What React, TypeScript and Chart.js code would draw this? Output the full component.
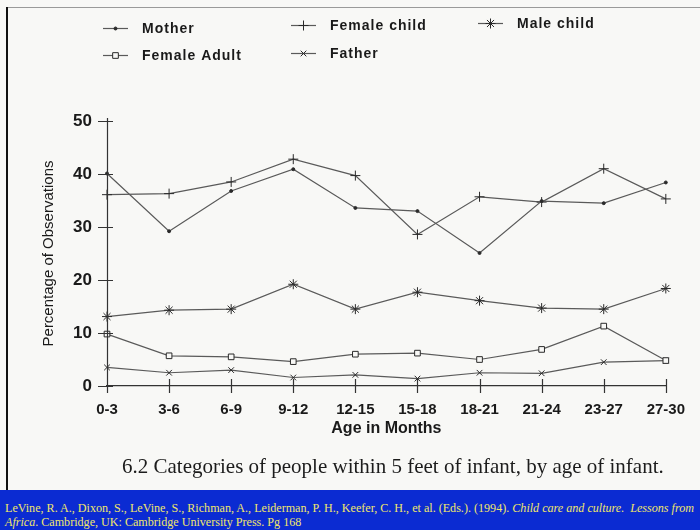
import React, { useEffect, useRef } from "react";
import { Chart, registerables } from "chart.js";
import { drawPoint } from "chart.js/helpers";

Chart.register(...registerables);

const categories = ["0-3", "3-6", "6-9", "9-12", "12-15", "15-18", "18-21", "21-24", "23-27", "27-30"];
const yTicks = [0, 10, 20, 30, 40, 50];

const mother = [40.1, 29.2, 36.8, 40.9, 33.6, 33.0, 25.1, 34.9, 34.5, 38.4];
const femaleChild = [36.1, 36.3, 38.5, 42.8, 39.7, 28.6, 35.7, 34.7, 41.0, 35.3];
const maleChild = [13.1, 14.3, 14.5, 19.2, 14.5, 17.7, 16.1, 14.7, 14.5, 18.4];
const femaleAdult = [9.8, 5.7, 5.5, 4.6, 6.0, 6.2, 5.0, 6.9, 11.3, 4.8];
const father = [3.5, 2.5, 3.0, 1.6, 2.1, 1.4, 2.5, 2.4, 4.5, 4.8];

const caption = "6.2 Categories of people within 5 feet of infant, by age of infant.";

const LINE = "#5a5a5a";
const PT = "#2a2a2a";
const FONT = "'Liberation Sans', Arial, sans-serif";

// legend placement (style only)
const legendPos: Record<string, [number, number]> = {
  Mother: [103, 28],
  "Female child": [291, 25],
  "Male child": [478, 23],
  "Female Adult": [103, 55],
  Father: [291, 53],
};

const axisPlugin = {
  id: "crossTicks",
  afterDraw(chart: any) {
    const ctx = chart.ctx;
    const x = chart.scales.x;
    const y = chart.scales.y;
    const ca = chart.chartArea;
    ctx.save();
    ctx.strokeStyle = "#333";
    ctx.lineWidth = 1.2;
    ctx.beginPath();
    yTicks.forEach((v) => {
      const py = Math.round(y.getPixelForValue(v)) + 0.5;
      ctx.moveTo(ca.left - 9, py);
      ctx.lineTo(ca.left + 6, py);
    });
    categories.forEach((_, i) => {
      const px = Math.round(x.getPixelForValue(i)) + 0.5;
      ctx.moveTo(px, ca.bottom - 7);
      ctx.lineTo(px, ca.bottom + 7);
    });
    ctx.moveTo(ca.left + 0.5, ca.top - 3);
    ctx.lineTo(ca.left + 0.5, ca.bottom + 7);
    ctx.stroke();
    ctx.restore();
  },
};

const legendPlugin = {
  id: "customLegend",
  afterDraw(chart: any) {
    const ctx = chart.ctx;
    ctx.save();
    chart.data.datasets.forEach((ds: any) => {
      const pos = legendPos[ds.label];
      if (!pos) return;
      const [lx, ly] = pos;
      ctx.strokeStyle = ds.borderColor;
      ctx.lineWidth = 1.2;
      ctx.beginPath();
      ctx.moveTo(lx, ly + 0.5);
      ctx.lineTo(lx + 25, ly + 0.5);
      ctx.stroke();
      ctx.fillStyle = ds.pointBackgroundColor;
      ctx.strokeStyle = ds.pointBorderColor;
      ctx.lineWidth = 1;
      drawPoint(ctx, { pointStyle: ds.pointStyle, radius: ds.pointRadius, borderWidth: 1, rotation: 0 }, lx + 12.5, ly + 0.5);
      ctx.fillStyle = "#1a1a1a";
      ctx.font = `bold 14px ${FONT}`;
      (ctx as any).letterSpacing = "1px";
      ctx.textBaseline = "middle";
      ctx.textAlign = "left";
      ctx.fillText(ds.label, lx + 39, ly + 1);
    });
    ctx.restore();
  },
};

export default function App() {
  const ref = useRef<HTMLCanvasElement>(null);
  useEffect(() => {
    if (!ref.current) return;
    const mk = (label: string, data: number[], pointStyle: string, radius: number, bg: string) => ({
      label,
      data,
      borderColor: LINE,
      borderWidth: 1.2,
      pointStyle,
      pointRadius: radius,
      pointBackgroundColor: bg,
      pointBorderColor: PT,
      pointBorderWidth: 1,
      tension: 0,
    });
    const chart = new Chart(ref.current, {
      type: "line",
      data: {
        labels: categories,
        datasets: [
          mk("Mother", mother, "circle", 1.5, PT),
          mk("Female child", femaleChild, "cross", 5, PT),
          mk("Male child", maleChild, "star", 5, PT),
          mk("Female Adult", femaleAdult, "rect", 4, "#f8f8f6"),
          mk("Father", father, "crossRot", 4, PT),
        ],
      },
      options: {
        responsive: false,
        animation: false,
        layout: { padding: { top: 121, right: 29, bottom: 84, left: 0 } },
        plugins: { legend: { display: false }, tooltip: { enabled: false } },
        scales: {
          x: {
            type: "category",
            offset: false,
            grid: { display: false, drawTicks: false },
            border: { display: true, color: "#333", width: 1.2 },
            ticks: { color: "#1a1a1a", font: { family: FONT, size: 15, weight: "bold" }, padding: 15, maxRotation: 0, autoSkip: false },
            title: { display: true, text: "Age in Months", color: "#1a1a1a", font: { family: FONT, size: 16, weight: "bold" }, padding: { top: 0, bottom: 8 } },
            afterFit: (s: any) => { s.height = 60; },
          },
          y: {
            min: 0,
            max: 50,
            grid: { display: false, drawTicks: false },
            border: { display: false },
            ticks: { stepSize: 10, color: "#1a1a1a", font: { family: FONT, size: 17, weight: "bold" }, padding: 15 },
            title: { display: true, text: "Percentage of Observations", color: "#1a1a1a", font: { family: FONT, size: 15 }, padding: { top: 40, bottom: 0 } },
            afterFit: (s: any) => { s.width = 107; },
          },
        },
      },
      plugins: [axisPlugin, legendPlugin],
    });
    return () => chart.destroy();
  }, []);

  return (
    <div style={{ position: "absolute", left: 0, top: 0, width: 700, height: 530, background: "#f8f8f6", overflow: "hidden" }}>
      <div style={{ position: "absolute", left: 6, top: 7, width: 694, height: 1, background: "#9a9a9a" }} />
      <div style={{ position: "absolute", left: 6, top: 7, width: 1.5, height: 483, background: "#111" }} />
      <canvas ref={ref} width={700} height={530} style={{ position: "absolute", left: 0, top: 0 }} />
      <div style={{ position: "absolute", left: 122, top: 454, fontFamily: "'Liberation Serif', 'Times New Roman', serif", fontSize: 21, lineHeight: "24px", color: "#1c1c1c", whiteSpace: "nowrap" }}>
        {caption}
      </div>
      <div style={{ position: "absolute", left: 0, top: 490, width: 700, height: 40, background: "#0b2bd2" }} />
      <div style={{ position: "absolute", left: 5, top: 501, fontFamily: "'Liberation Serif', 'Times New Roman', serif", fontSize: 12.1, lineHeight: "14px", color: "#f0e66a", whiteSpace: "nowrap" }}>
        LeVine, R. A., Dixon, S., LeVine, S., Richman, A., Leiderman, P. H., Keefer, C. H., et al. (Eds.). (1994). <i>Child care and culture.&nbsp; Lessons from</i>
        <br />
        <i>Africa</i>. Cambridge, UK: Cambridge University Press. Pg 168
      </div>
    </div>
  );
}
